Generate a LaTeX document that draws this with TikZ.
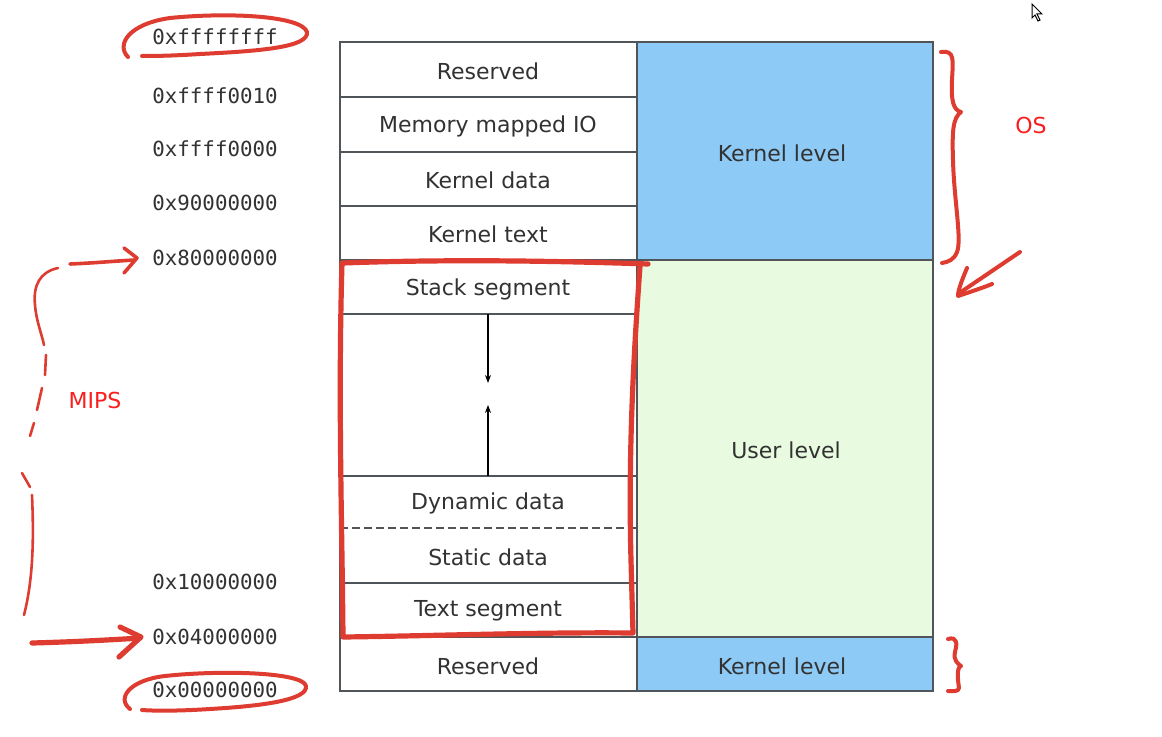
\documentclass[tikz,border=0pt]{standalone}
\usepackage{fontspec}
\setsansfont{DejaVu Sans}
\setmonofont{DejaVu Sans Mono}
\usetikzlibrary{arrows.meta}
\definecolor{kblue}{RGB}{142,202,246}
\definecolor{ugreen}{RGB}{232,250,224}
\definecolor{lgray}{RGB}{80,85,90}
\definecolor{tgray}{RGB}{50,50,50}
\definecolor{penred}{RGB}{222,60,48}
\definecolor{txtred}{RGB}{250,30,30}
\tikzset{
  cell/.style={draw=lgray, line width=0.7pt},
  lbl/.style={font=\sffamily\fontsize{11}{13}\selectfont, text=tgray, inner sep=0pt},
  addr/.style={font=\ttfamily\fontsize{10.4}{12}\selectfont, text=tgray, anchor=west, inner sep=0pt},
  redpen/.style={draw=penred, line width=2.6pt, line cap=round, line join=round},
  thinpen/.style={draw=penred, line width=1.3pt, line cap=round, line join=round},
  note/.style={font=\sffamily\fontsize{11}{13}\selectfont, text=txtred, inner sep=0pt},
  growarrow/.style={draw=black, line width=0.6pt, -{Stealth[length=4pt,width=3pt]}}
}
\begin{document}
\begin{tikzpicture}[x=0.5pt,y=-0.5pt]
\useasboundingbox (0,0) rectangle (1162,737);
\fill[white] (0,0) rectangle (1162,737);
% right column fills
\fill[kblue] (637,42) rectangle (933,260);
\fill[ugreen] (637,260) rectangle (933,637);
\fill[kblue] (637,637) rectangle (933,691);
% table frame
\draw[cell] (340,42) rectangle (933,691);
\draw[cell] (637,42) -- (637,691);
\foreach \yy in {97,152,206,314,476,583}{\draw[cell] (340,\yy) -- (637,\yy);}
\draw[cell] (340,260) -- (933,260);
\draw[cell] (340,637) -- (933,637);
\draw[lgray, line width=0.7pt, dash pattern=on 4pt off 2pt] (340,528) -- (637,528);
% left labels
\node[lbl] (res1) at (488,71) {Reserved};
\node[lbl] (mmio) at (488,126) {Memory mapped IO};
\node[lbl] (kdata) at (488,180) {Kernel data};
\node[lbl] (ktext) at (488,234) {Kernel text};
\node[lbl] (stack) at (488,289) {Stack segment};
\node[lbl] (dyn) at (488,503) {Dynamic data};
\node[lbl] (stat) at (488,557) {Static data};
\node[lbl] (text) at (488,611) {Text segment};
\node[lbl] (res2) at (488,666) {Reserved};
\node[lbl] (kl1) at (782,153) {Kernel level};
\node[lbl] (ul) at (786,450) {User level};
\node[lbl] (kl2) at (782,666) {Kernel level};
% growth arrows
\coordinate (stbot) at (488,314);
\coordinate (stend) at (488,383);
\coordinate (dytop) at (488,476);
\coordinate (dyend) at (488,405);
\draw[growarrow] (stbot) -- (stend);
\draw[growarrow] (dytop) -- (dyend);
% addresses
\node[addr] (a1) at (152,37) {0xffffffff};
\node[addr] (a2) at (152,96) {0xffff0010};
\node[addr] (a3) at (152,149) {0xffff0000};
\node[addr] (a4) at (152,203) {0x90000000};
\node[addr] (a5) at (152,258) {0x80000000};
\node[addr] (a6) at (152,582) {0x10000000};
\node[addr] (a7) at (152,637) {0x04000000};
\node[addr] (a8) at (152,690) {0x00000000};
% red annotations: box round the user segments
\draw[redpen] (343,263) .. controls (450,259) and (560,261) .. (648,264);
\draw[redpen] (640,266) .. controls (634,350) and (628,450) .. (631,560) -- (633,633)
  .. controls (540,632) and (430,636) .. (343,637)
  .. controls (342,520) and (338,400) .. (342,263);
% ellipse around top address
\draw[redpen, line width=2pt] (128,57) .. controls (116,45) and (128,24) .. (170,18)
  .. controls (230,12) and (302,16) .. (307,32)
  .. controls (309,47) and (262,51) .. (200,54)
  .. controls (170,56) and (152,56) .. (142,56);
% ellipse around bottom address
\draw[redpen, line width=2pt] (130,709) .. controls (116,698) and (130,680) .. (165,676)
  .. controls (220,670) and (303,672) .. (306,686)
  .. controls (308,700) and (262,706) .. (210,709)
  .. controls (180,711) and (155,711) .. (142,710);
% arrow to 0x80000000
\coordinate (m1s) at (70,264);
\coordinate (m1e) at (135,260);
\draw[thinpen, line width=1.8pt] (m1s) .. controls (95,263) and (115,261) .. (m1e);
\draw[thinpen, line width=1.8pt] (124,248) -- (137,258) -- (124,273);
% arrow to 0x04000000
\coordinate (m2s) at (32,643);
\coordinate (m2e) at (140,638);
\draw[redpen] (m2s) .. controls (70,642) and (110,640) .. (m2e);
\draw[redpen] (120,627) -- (141,637) -- (119,657);
% MIPS brace (broken)
\draw[thinpen] (58,268) .. controls (40,272) and (33,285) .. (35,305) .. controls (36,320) and (42,335) .. (44,345);
\draw[thinpen] (46,355) -- (45,375);
\draw[thinpen] (42,388) -- (37,410);
\draw[thinpen] (34,423) -- (30,436);
\draw[thinpen] (22,473) -- (30,487);
\draw[thinpen] (32,495) .. controls (34,540) and (33,580) .. (24,615);
\node[note] (mips) at (95,400) {MIPS};
% OS brace
\draw[thinpen, line width=2pt] (941,52) .. controls (955,50) and (953,60) .. (952,80)
  .. controls (951,100) and (953,110) .. (961,112)
  .. controls (953,118) and (952,130) .. (953,160)
  .. controls (954,200) and (962,240) .. (957,252)
  .. controls (954,260) and (948,262) .. (942,263);
\node[note] (os) at (1031,125) {OS};
\coordinate (osa) at (1020,252);
\coordinate (osb) at (958,294);
\draw[thinpen, line width=2pt] (osa) -- (osb);
\draw[thinpen, line width=2pt] (967,268) .. controls (962,280) and (958,290) .. (958,296) .. controls (970,292) and (985,287) .. (992,284);
% small bottom brace
\draw[thinpen, line width=2pt] (948,639) .. controls (958,636) and (957,645) .. (955,652)
  .. controls (953,660) and (958,664) .. (961,666)
  .. controls (956,668) and (958,680) .. (959,688)
  .. controls (959,692) and (952,691) .. (948,691);
% mouse cursor
\draw[black, line width=0.5pt, fill=white] (1032,4) -- (1032,18) -- (1035,15) -- (1038,21) -- (1040,20) -- (1037,14) -- (1042,14) -- cycle;
\end{tikzpicture}
\end{document}
